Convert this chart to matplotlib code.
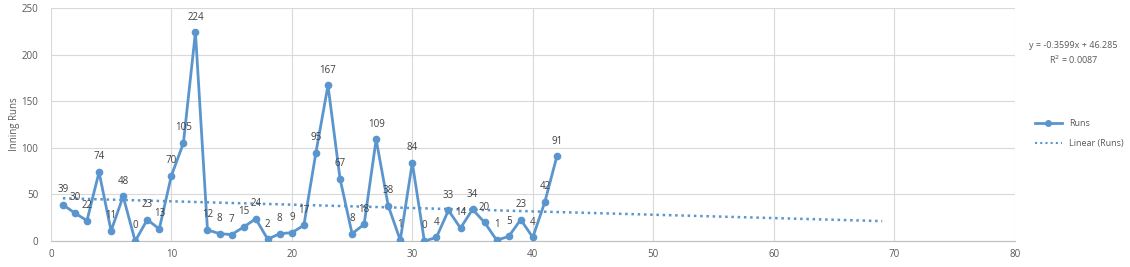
import numpy as np
import matplotlib
matplotlib.use("Agg")
import matplotlib.pyplot as plt
from matplotlib.lines import Line2D

innings = list(range(1, 43))
runs = [39, 30, 22, 74, 11, 48, 0, 23, 13, 70, 105, 224, 12, 8, 7, 15, 24, 2, 8, 9,
        17, 95, 167, 67, 8, 18, 109, 38, 1, 84, 0, 4, 33, 14, 34, 20, 1, 5, 23, 4,
        42, 91]
trend_end = 69
eq_text = "y = -0.3599x + 46.285\nR$^2$ = 0.0087"

plt.rcParams['font.family'] = ['Open Sans', 'DejaVu Sans']
col = '#5a96cd'
txt = '#595959'

fig = plt.figure(figsize=(11.3, 2.67), dpi=100)
ax = fig.add_axes([0.045, 0.097, 0.853, 0.873])

x = np.array(innings, dtype=float)
y = np.array(runs, dtype=float)
slope, icpt = np.polyfit(x, y, 1)
tx = np.array([1, trend_end], dtype=float)
ax.plot(tx, slope * tx + icpt, linestyle=(0, (1, 1.5)), color=col, lw=1.8, zorder=2)

ax.plot(x, y, color=col, lw=2, marker='o', ms=4.5, zorder=3)
for xi, yi in zip(innings, runs):
    ax.annotate(str(yi), (xi, yi), xytext=(0, 7), textcoords='offset points',
                ha='center', va='bottom', fontsize=7, color='#404040', zorder=4)

ax.set_xlim(0, 80)
ax.set_ylim(0, 250)
ax.set_xticks(range(0, 81, 10))
ax.set_yticks(range(0, 251, 50))
ax.grid(True, color='#d9d9d9', lw=0.8)
ax.set_axisbelow(True)
for s in ['top', 'right', 'left']:
    ax.spines[s].set_visible(False)
ax.spines['bottom'].set_color('#bfbfbf')
ax.tick_params(length=0, labelsize=7, colors=txt)
ax.tick_params(axis='x', pad=6)
ax.tick_params(axis='y', pad=9)
ax.set_ylabel('Inning Runs', fontsize=7, color=txt, labelpad=1)

fig.text(0.950, 0.80, eq_text, ha='center', va='center', fontsize=6.5, color=txt,
         linespacing=1.3)

handles = [Line2D([], [], color=col, lw=2, marker='o', ms=4),
           Line2D([], [], color=col, lw=1.5, linestyle=(0, (1, 1.5)))]
fig.legend(handles, ['Runs', 'Linear (Runs)'], loc='center', bbox_to_anchor=(0.955, 0.50),
           frameon=False, fontsize=6.5, labelcolor=txt, handlelength=3, labelspacing=1.2)

fig.savefig('out.png', dpi=100)
